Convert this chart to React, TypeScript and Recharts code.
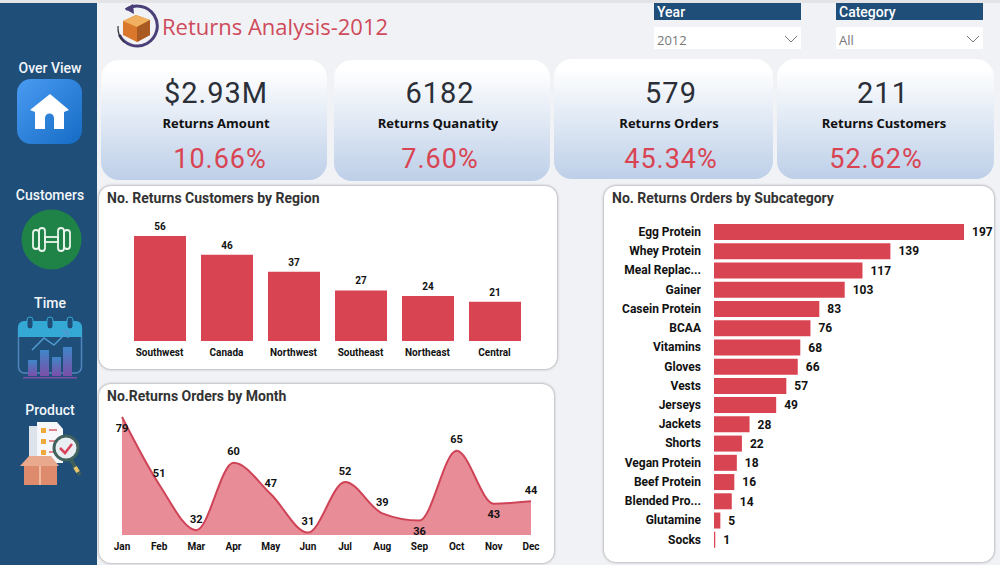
import type React from "react"
import { BarChart, Bar, AreaChart, Area, XAxis, YAxis, LabelList } from "recharts"

const regions = ["Southwest", "Canada", "Northwest", "Southeast", "Northeast", "Central"]
const regionCustomers = [56, 46, 37, 27, 24, 21]

const months = ["Jan", "Feb", "Mar", "Apr", "May", "Jun", "Jul", "Aug", "Sep", "Oct", "Nov", "Dec"]
const monthOrders = [79, 51, 32, 60, 47, 31, 52, 39, 36, 65, 43, 44]
const labelsBelow = ["Jan", "Sep", "Nov"]

const subcategories = [
  "Egg Protein", "Whey Protein", "Meal Replac...", "Gainer", "Casein Protein", "BCAA", "Vitamins", "Gloves", "Vests",
  "Jerseys", "Jackets", "Shorts", "Vegan Protein", "Beef Protein", "Blended Pro...", "Glutamine", "Socks",
]
const subcategoryOrders = [197, 139, 117, 103, 83, 76, 68, 66, 57, 49, 28, 22, 18, 16, 14, 5, 1]

const kpiValues = ["$2.93M", "6182", "579", "211"]
const kpiNames = ["Returns Amount", "Returns Quanatity", "Returns Orders", "Returns Customers"]
const kpiPercents = ["10.66%", "7.60%", "45.34%", "52.62%"]

const RED = "#D94452"
const NAVY = "#1F4E79"
const DIN = "Roboto, sans-serif"
const SEGOE = "'Open Sans', sans-serif"

const regionData = regions.map((name, i) => ({ name, value: regionCustomers[i] }))
const monthData = months.map((name, i) => ({ name, value: monthOrders[i] }))
const subcategoryData = subcategories.map((name, i) => ({ name, value: subcategoryOrders[i] }))

const abs = (left: number, top: number, width: number, height: number): React.CSSProperties => ({
  position: "absolute",
  left,
  top,
  width,
  height,
})

const cardBoxes = [
  [101, 60, 226, 120],
  [334, 60, 216, 121],
  [554, 59, 219, 120],
  [777, 59, 217, 120],
]
const valueCentres = [216, 440, 671, 883]
const nameCentres = [216, 438, 669, 884]
const percentCentres = [220, 440, 671, 876]

const Panel = ({ box, title, children }: { box: number[]; title: string; children: React.ReactNode }) => (
  <div
    style={{
      ...abs(box[0], box[1], box[2], box[3]),
      background: "#fff",
      borderRadius: 12,
      boxSizing: "border-box",
      boxShadow: "0 0 3px rgba(0,0,0,0.45)",
    }}
  >
    <div style={{ position: "absolute", left: 8, top: 4, fontFamily: DIN, fontWeight: 700, fontSize: 14, color: "#333", whiteSpace: "nowrap" }}>
      {title}
    </div>
    {children}
  </div>
)

const Slicer = ({ left, title, value }: { left: number; title: string; value: string }) => (
  <>
    <div style={{ ...abs(left, 3, 147, 17), background: NAVY, color: "#fff", fontFamily: DIN, fontWeight: 500, fontSize: 14, lineHeight: "18px", paddingLeft: 3, boxSizing: "border-box" }}>
      {title}
    </div>
    <div style={{ ...abs(left, 27, 147, 22), background: "#fff", color: "#777", fontFamily: SEGOE, fontSize: 13, lineHeight: "26px", paddingLeft: 3, boxSizing: "border-box" }}>
      {value}
      <svg width={16} height={10} style={{ position: "absolute", right: 2, top: 7 }}>
        <path d="M2 2 L8 8 L14 2" fill="none" stroke="#777" strokeWidth={1} />
      </svg>
    </div>
  </>
)

const NavLabel = ({ top, text }: { top: number; text: string }) => (
  <div style={{ position: "absolute", left: 0, width: 100, top, textAlign: "center", color: "#F2F6FA", fontFamily: DIN, fontWeight: 500, fontSize: 14 }}>
    {text}
  </div>
)

const MonthLabel = ({ x, y, value, index }: any) => {
  const below = labelsBelow.includes(months[index])
  return (
    <text x={x} y={below ? y + 11 : y - 11} textAnchor="middle" dominantBaseline="central" fontFamily={DIN} fontWeight={700} fontSize={11} fill="#111">
      {value}
    </text>
  )
}

const HomeIcon = () => (
  <svg style={{ ...abs(17, 79, 65, 65) }} viewBox="0 0 65 65">
    <defs>
      <linearGradient id="homeBg" x1="0" y1="0" x2="1" y2="1">
        <stop offset="0%" stopColor="#4A9BF2" />
        <stop offset="100%" stopColor="#156BC4" />
      </linearGradient>
    </defs>
    <rect width={65} height={65} rx={14} fill="url(#homeBg)" />
    <path d="M33 15 L52 31 L47 33 L47 50 L37 50 L37 39 A4.5 4.5 0 0 0 28 39 L28 50 L18 50 L18 33 L13 31 Z" fill="#fff" />
  </svg>
)

const DumbbellIcon = () => (
  <svg style={{ ...abs(21, 209, 61, 61) }} viewBox="0 0 61 61">
    <circle cx={30.5} cy={30.5} r={30} fill="#1F8247" />
    <g fill="none" stroke="#E9F5EC" strokeWidth={1.8}>
      <rect x={12} y={21} width={6} height={19} rx={3} />
      <rect x={18} y={19} width={6} height={23} rx={3} />
      <rect x={37} y={19} width={6} height={23} rx={3} />
      <rect x={43} y={21} width={6} height={19} rx={3} />
      <rect x={24} y={28} width={13} height={5} />
    </g>
  </svg>
)

const CalendarIcon = () => (
  <svg style={{ ...abs(17, 315, 66, 65) }} viewBox="0 0 66 65">
    <defs>
      <linearGradient id="calBars" x1="0" y1="0" x2="0" y2="1">
        <stop offset="0%" stopColor="#3F86C8" />
        <stop offset="100%" stopColor="#7B4FA8" />
      </linearGradient>
    </defs>
    <rect x={1.5} y={8} width={63} height={50} rx={6} fill="none" stroke="#4F86BC" strokeWidth={1.5} />
    <path d="M1 22 L1 12 A6 6 0 0 1 7 6 L59 6 A6 6 0 0 1 65 12 L65 22 Z" fill="#35A9D6" />
    <rect x={10} y={2} width={6} height={12} rx={3} fill={NAVY} stroke="#35A9D6" />
    <rect x={30} y={2} width={6} height={12} rx={3} fill={NAVY} stroke="#35A9D6" />
    <rect x={50} y={2} width={6} height={12} rx={3} fill={NAVY} stroke="#35A9D6" />
    <rect x={11} y={45} width={9} height={16} fill="url(#calBars)" />
    <rect x={23} y={35} width={9} height={26} fill="url(#calBars)" />
    <rect x={35} y={42} width={9} height={19} fill="url(#calBars)" />
    <rect x={46} y={32} width={9} height={29} fill="url(#calBars)" />
    <path d="M15 35 L27 23 L37 30 L50 17 M44 16 L51 16 L51 23" fill="none" stroke="#4F9AD0" strokeWidth={1.5} />
    <rect x={6} y={62} width={54} height={1.5} fill="#7B4FA8" />
  </svg>
)

const ProductIcon = () => (
  <svg style={{ ...abs(19, 421, 66, 66) }} viewBox="0 0 66 66">
    <rect x={10} y={5} width={22} height={40} fill="#DDE3EA" />
    <path d="M18 1 L38 1 L44 8 L44 42 L18 42 Z" fill="#F5F7FA" />
    <rect x={22} y={7} width={5} height={5} fill="#F0A93B" />
    <rect x={22} y={18} width={5} height={5} fill="#F0A93B" />
    <rect x={22} y={29} width={5} height={5} fill="#F0A93B" />
    <path d="M30 9 L38 9 M30 20 L36 20 M30 31 L36 31" stroke="#D9606A" strokeWidth={1.5} />
    <path d="M1 45 L10 35 L21 35 L21 45 Z M21 35 L32 35 L40 45 L21 45 Z" fill="#E9A98C" />
    <rect x={5} y={45} width={33} height={19} fill="#DE8A6C" />
    <rect x={20} y={45} width={2} height={19} fill="#F0B9A0" />
    <path d="M52 39 L61 54" stroke="#3E5F5A" strokeWidth={4} />
    <path d="M56 46 L59 51" stroke="#E9C46A" strokeWidth={4} />
    <circle cx={47} cy={27} r={12} fill="#E8EEF2" stroke="#41625E" strokeWidth={3} />
    <path d="M41 27 L46 32 L53 23" fill="none" stroke="#D9445A" strokeWidth={2.5} />
  </svg>
)

const TitleIcon = () => (
  <svg style={{ ...abs(114, 2, 48, 46) }} viewBox="0 0 48 46">
    <path d="M9 10 A20 20 0 1 1 7 36" fill="none" stroke="#4B3F78" strokeWidth={3} transform="rotate(10 24 25)" />
    <path d="M4 24 A20 20 0 0 0 10 40" fill="none" stroke="#333" strokeWidth={1.2} />
    <path d="M19 2 L11 7 L20 12 Z" fill="#4B3F78" />
    <path d="M9 19 L22 13 L36 18 L36 33 L23 40 L9 33 Z" fill="#D9782D" />
    <path d="M9 19 L22 13 L36 18 L23 25 Z" fill="#F0B060" />
    <path d="M23 25 L36 18 L36 33 L23 40 Z" fill="#A85A22" />
  </svg>
)

export default function App() {
  return (
    <div style={{ ...abs(0, 0, 1000, 565), background: "#F1F2F6", overflow: "hidden" }}>
      <div style={{ ...abs(0, 0, 97, 565), background: NAVY }} />
      <div style={{ ...abs(0, 0, 1000, 3), background: "#E4E4E6" }} />

      <NavLabel top={60} text="Over View" />
      <HomeIcon />
      <NavLabel top={187} text="Customers" />
      <DumbbellIcon />
      <NavLabel top={295} text="Time" />
      <CalendarIcon />
      <NavLabel top={402} text="Product" />
      <ProductIcon />

      <TitleIcon />
      <div style={{ position: "absolute", left: 162, top: 11, fontFamily: SEGOE, fontWeight: 500, fontSize: 22, color: "#CF4A5A", whiteSpace: "nowrap" }}>
        Returns Analysis-2012
      </div>

      <Slicer left={654} title="Year" value="2012" />
      <Slicer left={836} title="Category" value="All" />

      {cardBoxes.map((box, i) => (
        <div key={kpiNames[i]}>
          <div
            style={{
              ...abs(box[0], box[1], box[2], box[3]),
              borderRadius: 18,
              background: "linear-gradient(180deg, #FFFFFF 8%, #BDCFE8 100%)",
            }}
          />
          <div style={{ position: "absolute", left: valueCentres[i] - 100, width: 200, top: 76, textAlign: "center", fontFamily: DIN, fontSize: 29, color: "#2B2F38", letterSpacing: 1 }}>
            {kpiValues[i]}
          </div>
          <div style={{ position: "absolute", left: nameCentres[i] - 100, width: 200, top: 114, textAlign: "center", fontFamily: SEGOE, fontWeight: 700, fontSize: 13, color: "#111" }}>
            {kpiNames[i]}
          </div>
          <div style={{ position: "absolute", left: percentCentres[i] - 100, width: 200, top: 143, textAlign: "center", fontFamily: DIN, fontSize: 27, color: RED, letterSpacing: 1 }}>
            {kpiPercents[i]}
          </div>
        </div>
      ))}

      <Panel box={[99, 186, 458, 183]} title="No. Returns Customers by Region">
        <BarChart width={458} height={183} data={regionData} margin={{ top: 50, right: 29, bottom: 8, left: 27 }} style={{ position: "absolute", left: 0, top: 0 }}>
          <XAxis dataKey="name" height={20} interval={0} axisLine={false} tickLine={false} tick={{ fontFamily: DIN, fontWeight: 700, fontSize: 10, fill: "#111" }} />
          <YAxis hide domain={[0, 56]} />
          <Bar dataKey="value" fill={RED} barSize={52} isAnimationActive={false}>
            <LabelList dataKey="value" position="top" offset={6} style={{ fontFamily: DIN, fontWeight: 700, fontSize: 10, fill: "#111" }} />
          </Bar>
        </BarChart>
      </Panel>

      <Panel box={[99, 384, 455, 179]} title="No.Returns Orders by Month">
        <AreaChart width={455} height={179} data={monthData} margin={{ top: 33, right: 23, bottom: 8, left: 23 }} style={{ position: "absolute", left: 0, top: 0 }}>
          <XAxis dataKey="name" height={20} interval={0} axisLine={false} tickLine={false} tick={{ fontFamily: DIN, fontWeight: 700, fontSize: 10, fill: "#111" }} />
          <YAxis hide domain={[30, 79]} />
          <Area type="monotone" dataKey="value" stroke="#CF4356" strokeWidth={2} fill="#E88D98" fillOpacity={1} isAnimationActive={false}>
            <LabelList dataKey="value" content={MonthLabel} />
          </Area>
        </AreaChart>
      </Panel>

      <Panel box={[604, 186, 390, 376]} title="No. Returns Orders by Subcategory">
        <BarChart layout="vertical" width={390} height={376} data={subcategoryData} margin={{ top: 36, right: 30, bottom: 13, left: 0 }} style={{ position: "absolute", left: 0, top: 0 }}>
          <XAxis type="number" hide domain={[0, 197]} />
          <YAxis type="category" dataKey="name" width={110} interval={0} axisLine={false} tickLine={false} tickMargin={7} tick={{ fontFamily: DIN, fontWeight: 700, fontSize: 12, fill: "#111" }} />
          <Bar dataKey="value" fill={RED} barSize={16} isAnimationActive={false}>
            <LabelList dataKey="value" position="right" offset={8} style={{ fontFamily: DIN, fontWeight: 700, fontSize: 12, fill: "#111" }} />
          </Bar>
        </BarChart>
      </Panel>
    </div>
  )
}
